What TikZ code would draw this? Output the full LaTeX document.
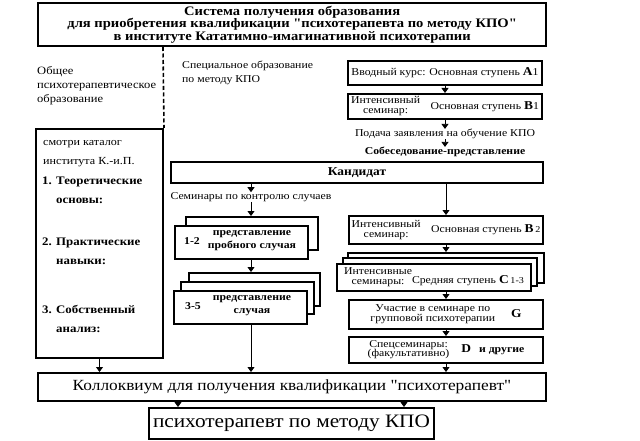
\documentclass[tikz,border=0pt]{standalone}
\usepackage{fontspec}
\setmainfont{Liberation Serif}[FakeStretch=1.12, Ligatures=TeXOff]
\usetikzlibrary{arrows.meta}
\begin{document}
\begin{tikzpicture}[x=1pt,y=-1pt,
  box/.style={draw, line width=2pt, fill=white, inner sep=0pt, anchor=north west},
  arr/.style={-{Triangle[width=7pt,length=5pt]}, line width=0.8pt},
  txt/.style={inner sep=0pt, font=\fontsize{10.5}{12}\selectfont},
  btxt/.style={inner sep=0pt, font=\fontsize{10.5}{12}\selectfont\bfseries},
  ltxt/.style={inner sep=0pt, anchor=north west, align=left, font=\fontsize{11.5}{19}\selectfont\bfseries},
]
\useasboundingbox (0,0) rectangle (640,441);
% title
\node[box, line width=2.4pt, minimum width=508pt, minimum height=43pt, align=center,
  font=\fontsize{13}{12.5}\selectfont\bfseries] (title) at (37,2)
  {Система получения образования\\для приобретения квалификации "психотерапевта по методу КПО"\\в институте Кататимно-имагинативной психотерапии};
% headings
\node[txt, anchor=north west, align=left, font=\fontsize{11.2}{14}\selectfont] (gen) at (37,66)
  {Общее\\психотерапевтическое\\образование};
\node[txt, anchor=north west, align=left, font=\fontsize{10.5}{14}\selectfont] (spec) at (182,61)
  {Специальное образование\\по методу КПО};
% left box
\node[box, minimum width=127pt, minimum height=229pt] (left) at (35,128) {};
\draw[line width=1.6pt, dash pattern=on 4pt off 2.5pt] (163,47) -- (left.north east);
\node[txt, anchor=north west, align=left, font=\fontsize{10.8}{19}\selectfont] (cat) at (43,140)
  {смотри каталог\\института К.-и.П.};
\node[ltxt] (i1) at (42,177)
  {1. Теоретические\\\hspace*{14pt}основы:};
\node[ltxt] (i2) at (42,238)
  {2. Практические\\\hspace*{14pt}навыки:};
\node[ltxt] (i3) at (42,305)
  {3. Собственный\\\hspace*{14pt}анализ:};
% right column top
\node[box, minimum width=194pt, minimum height=24pt, txt] (a1) at (347,60)
  {Вводный курс: Основная ступень \textbf{\large A}1};
\node[box, minimum width=194pt, minimum height=25pt, txt] (b1) at (347,93)
  {\begin{tabular}{@{}c@{}}Интенсивный\\[-2pt]семинар:\end{tabular}\quad Основная ступень \textbf{\large B}1};
\node[txt] (pod) at (445,134) {Подача заявления на обучение КПО};
\node[btxt] (sob) at (445,152) {Собеседование-представление};
\node[box, minimum width=372pt, minimum height=21pt, font=\fontsize{12}{14}\selectfont\bfseries] (kand) at (170,161) {Кандидат};
\draw[arr] (a1.south) -- (b1.north);
\draw[arr] (b1.south) -- (pod.north);
\draw[arr] (pod.south) -- (sob.north);
% case seminars
\node[txt] (sem) at (251,197) {Семинары по контролю случаев};
\node[box, minimum width=132pt, minimum height=33pt] (s12b) at (185,216) {};
\node[box, minimum width=133pt, minimum height=33pt] (s12) at (174,225) {};
\node[btxt] (n12) at (192,241) {1-2};
\node[btxt, align=center, font=\fontsize{10.5}{13}\selectfont\bfseries] (t12) at (252,241) {представление\\пробного случая};
\node[box, minimum width=131pt, minimum height=33pt] (s35c) at (188,272) {};
\node[box, minimum width=133pt, minimum height=32pt] (s35b) at (180,281) {};
\node[box, minimum width=133pt, minimum height=33pt] (s35) at (173,290) {};
\node[btxt] (n35) at (193,306) {3-5};
\node[btxt, align=center, font=\fontsize{10.5}{13}\selectfont\bfseries] (t35) at (252,306) {представление\\случая};
\draw[arr] (kand.south -| sem) -- (sem.north);
\draw[arr] (sem.south) -- (s12b.north -| sem);
\draw[arr] (s12.south -| sem) -- (s35c.north -| sem);
% right column lower
\node[box, minimum width=194pt, minimum height=28pt, txt] (b2) at (348,215)
  {\begin{tabular}{@{}c@{}}Интенсивный\\[-2pt]семинар:\end{tabular}\quad Основная ступень \textbf{\large B}\,{\small 2}};
\node[box, minimum width=196pt, minimum height=30pt] (c3) at (347,252) {};
\node[box, minimum width=194pt, minimum height=28pt] (c2) at (342,257) {};
\node[box, minimum width=194pt, minimum height=27pt, txt] (c1) at (336,263)
  {\begin{tabular}{@{}c@{}}Интенсивные\\[-2pt]семинары:\end{tabular}\raisebox{-3pt}{Средняя ступень \textbf{\large C}\,{\small 1-3}}};
\node[box, minimum width=194pt, minimum height=29pt, txt] (g) at (348,299)
  {\begin{tabular}{@{}c@{}}Участие в семинаре по\\[-2pt]групповой психотерапии\end{tabular}\hspace{16pt}\textbf{\large G}};
\node[box, minimum width=194pt, minimum height=26pt, txt] (d) at (348,336)
  {\begin{tabular}{@{}c@{}}Спецсеминары:\\[-3pt](факультативно)\end{tabular}\hspace{12pt}\textbf{\large D}\hspace{8pt}\textbf{и другие}};
\draw[arr] (kand.south -| b2.north) -- (b2.north);
\draw[arr] (b2.south) -- (c3.north -| b2.south);
\draw[arr] (c1.south -| b2.south) -- (g.north);
\draw[arr] (g.south) -- (d.north);
% bottom
\node[box, minimum width=508pt, minimum height=28pt, font=\fontsize{15.5}{17}\selectfont] (coll) at (37,372)
  {Коллоквиум для получения квалификации "психотерапевт"};
\node[box, minimum width=285pt, minimum height=31pt, font=\fontsize{19}{22}\selectfont] (fin) at (148,407)
  {психотерапевт по методу КПО};
\draw[arr] (left.south) -- (coll.north -| left.south);
\draw[arr] (s35.south -| sem) -- (coll.north -| sem);
\draw[arr] (d.south) -- (coll.north -| d.south);
\coordinate (f1) at (178,0);
\coordinate (f2) at (404,0);
\draw[arr] (coll.south -| f1) -- (fin.north -| f1);
\draw[arr] (coll.south -| f2) -- (fin.north -| f2);
\end{tikzpicture}
\end{document}
